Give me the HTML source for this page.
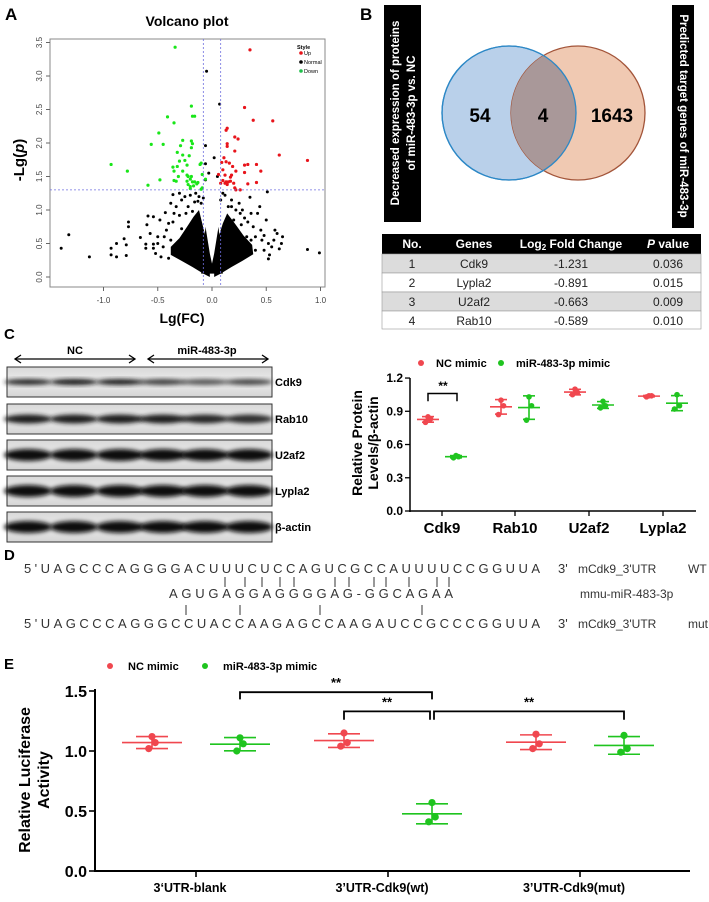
<!DOCTYPE html>
<html><head><meta charset="utf-8"><style>
html,body{margin:0;padding:0;background:#fff;}
svg{display:block;font-family:"Liberation Sans",Arial,sans-serif;}
</style></head><body>
<svg id="fig" width="709" height="902" viewBox="0 0 709 902" xmlns="http://www.w3.org/2000/svg">
<defs>
<filter id="blur" x="-20%" y="-50%" width="140%" height="200%"><feGaussianBlur stdDeviation="2"/></filter>
<linearGradient id="blotbg" x1="0" y1="0" x2="0" y2="1"><stop offset="0" stop-color="#d8d8d8"/><stop offset="0.5" stop-color="#ececec"/><stop offset="1" stop-color="#d4d4d4"/></linearGradient>
</defs>
<g id="panelA">
<text x="5" y="20" font-size="17" font-weight="bold">A</text>
<text x="187" y="26" font-size="14" font-weight="bold" text-anchor="middle">Volcano plot</text>
<rect x="50" y="39" width="275" height="248" fill="none" stroke="#888" stroke-width="1"/>
<g id="volcClip"></g>
<g id="volcAxes"></g>
<text transform="translate(24,160) rotate(-90)" font-size="15" font-weight="bold" text-anchor="middle">-Lg(<tspan font-style="italic">p</tspan>)</text>
<text x="182" y="323" font-size="14" font-weight="bold" text-anchor="middle">Lg(FC)</text>
<g>
<text x="297" y="49" font-size="5.5" font-weight="bold">Style</text>
<circle cx="301" cy="53" r="1.8" fill="#e8141b"/><text x="304" y="55" font-size="5.5">Up</text>
<circle cx="301" cy="62" r="1.8" fill="#000"/><text x="304" y="64" font-size="5.5">Normal</text>
<circle cx="301" cy="71" r="1.8" fill="#1fbf4a"/><text x="304" y="73" font-size="5.5">Down</text>
</g>
</g>

<g id="panelB">
<text x="360" y="20" font-size="17" font-weight="bold">B</text>
<rect x="384" y="5" width="37" height="217" fill="#000"/>
<text transform="translate(399,113) rotate(-90)" fill="#fff" font-size="11.5" font-weight="bold" text-anchor="middle"><tspan x="0" y="0">Decreased  expression of proteins</tspan><tspan x="0" y="16">of miR-483-3p vs. NC</tspan></text>
<rect x="672" y="5" width="22" height="223" fill="#000"/>
<text transform="translate(683,116) rotate(90)" fill="#fff" font-size="11.5" font-weight="bold" text-anchor="middle" dominant-baseline="middle">Predicted  target genes of miR-483-3p</text>
<circle cx="509" cy="113" r="67" fill="#b9d0ea" stroke="#2d88c6" stroke-width="1.3"/>
<circle cx="578" cy="113" r="67" fill="#edbfa5" fill-opacity="0.85" stroke="#a3553a" stroke-width="1.3"/>
<clipPath id="cb"><circle cx="509" cy="113" r="67"/></clipPath>
<circle cx="578" cy="113" r="67" fill="#a99899" clip-path="url(#cb)"/>
<circle cx="509" cy="113" r="67" fill="none" stroke="#2d88c6" stroke-width="1.3"/>
<text x="480" y="122" font-size="19" font-weight="bold" text-anchor="middle">54</text>
<text x="543" y="122" font-size="19" font-weight="bold" text-anchor="middle">4</text>
<text x="612" y="122" font-size="19" font-weight="bold" text-anchor="middle">1643</text>
<g>
<rect x="382" y="234" width="319" height="20" fill="#000"/>
<rect x="382" y="254" width="319" height="19" fill="#dcdcdc" stroke="#999" stroke-width="0.6"/>
<rect x="382" y="273" width="319" height="19" fill="#fff" stroke="#999" stroke-width="0.6"/>
<rect x="382" y="292" width="319" height="19" fill="#dcdcdc" stroke="#999" stroke-width="0.6"/>
<rect x="382" y="311" width="319" height="18" fill="#fff" stroke="#999" stroke-width="0.6"/>
<g font-size="12" fill="#fff" font-weight="bold" text-anchor="middle">
<text x="412" y="248">No.</text><text x="474" y="248">Genes</text><text x="571" y="248">Log<tspan font-size="8" dy="2">2</tspan><tspan dy="-2"> Fold Change</tspan></text><text x="668" y="248"><tspan font-style="italic">P</tspan> value</text>
</g>
<g font-size="12" fill="#222" text-anchor="middle">
<text x="412" y="268">1</text><text x="474" y="268">Cdk9</text><text x="571" y="268">-1.231</text><text x="668" y="268">0.036</text>
<text x="412" y="287">2</text><text x="474" y="287">Lypla2</text><text x="571" y="287">-0.891</text><text x="668" y="287">0.015</text>
<text x="412" y="306">3</text><text x="474" y="306">U2af2</text><text x="571" y="306">-0.663</text><text x="668" y="306">0.009</text>
<text x="412" y="325">4</text><text x="474" y="325">Rab10</text><text x="571" y="325">-0.589</text><text x="668" y="325">0.010</text>
</g>
</g>
</g>

<g id="panelC">
<text x="4" y="339" font-size="15" font-weight="bold">C</text>
<text x="75" y="354" font-size="11" font-weight="bold" text-anchor="middle">NC</text>
<text x="207" y="354" font-size="11" font-weight="bold" text-anchor="middle">miR-483-3p</text>
<g stroke="#000" stroke-width="1.3" fill="none">
<line x1="15" y1="359" x2="135" y2="359"/><path d="M21,355 L15,359 L21,363 M129,355 L135,359 L129,363"/>
<line x1="148" y1="359" x2="268" y2="359"/><path d="M154,355 L148,359 L154,363 M262,355 L268,359 L262,363"/>
</g>
<g id="blots"></g>
<g id="chartC"></g>
</g>

<g id="panelD">
<text x="4" y="560" font-size="15" font-weight="bold">D</text>
<g font-size="13" fill="#333">
<text x="24" y="573" textLength="516" lengthAdjust="spacing">5'UAGCCCAGGGGACUUUCUCCAGUCGCCAUUUUCCGGUUA</text>
<text x="558" y="573">3'</text>
<text x="578" y="573" font-size="12">mCdk9_3'UTR</text>
<text x="688" y="573" font-size="12">WT</text>
<text x="169" y="598" textLength="284" lengthAdjust="spacing">AGUGAGGAGGGGAG-GGCAGAA</text>
<text x="580" y="598" font-size="12">mmu-miR-483-3p</text>
<text x="24" y="628" textLength="516" lengthAdjust="spacing">5'UAGCCCAGGGCCUACCAAGAGCCAAGAUCCGCCCGGUUA</text>
<text x="558" y="628">3'</text>
<text x="578" y="628" font-size="12">mCdk9_3'UTR</text>
<text x="688" y="628" font-size="12">mut</text>
</g>
<g id="pipes" stroke="#333" stroke-width="1"></g>
</g>

<g id="panelE">
<text x="4" y="669" font-size="15" font-weight="bold">E</text>
<g id="chartE"></g>
</g>
</svg>
<script>
const NS='http://www.w3.org/2000/svg';
function mk(tag,attrs,parent){const e=document.createElementNS(NS,tag);for(const k in attrs)e.setAttribute(k,attrs[k]);parent.appendChild(e);return e;}

// ===== Panel A data =====
const upPoints=[[0.35,3.39],[0.30,2.53],[0.38,2.34],[0.56,2.33],[0.14,2.22],[0.13,2.19],[0.21,2.09],[0.24,2.06],[0.14,1.99],[0.14,1.95],[0.21,1.88],[0.62,1.82],[0.11,1.78],[0.88,1.74],[0.09,1.71],[0.13,1.72],[0.16,1.70],[0.30,1.67],[0.33,1.68],[0.41,1.68],[0.19,1.65],[0.10,1.60],[0.22,1.58],[0.45,1.58],[0.06,1.53],[0.12,1.52],[0.18,1.52],[0.17,1.49],[0.30,1.56],[0.10,1.44],[0.13,1.42],[0.15,1.42],[0.12,1.40],[0.17,1.43],[0.20,1.40],[0.41,1.41],[0.33,1.39],[0.21,1.33],[0.22,1.30],[0.26,1.30],[0.14,1.38],[0.08,1.40]];
const downPoints=[[-0.34,3.43],[-0.19,2.55],[-0.18,2.40],[-0.16,2.40],[-0.41,2.39],[-0.35,2.30],[-0.49,2.15],[-0.27,2.04],[-0.19,2.03],[-0.56,1.98],[-0.45,1.98],[-0.29,1.96],[-0.18,1.99],[-0.19,1.93],[-0.32,1.86],[-0.27,1.82],[-0.21,1.81],[-0.93,1.68],[-0.25,1.74],[-0.30,1.73],[-0.32,1.65],[-0.36,1.64],[-0.23,1.67],[-0.10,1.70],[-0.11,1.68],[-0.78,1.58],[-0.35,1.58],[-0.27,1.58],[-0.23,1.52],[-0.22,1.50],[-0.19,1.50],[-0.31,1.50],[-0.20,1.46],[-0.48,1.45],[-0.35,1.44],[-0.33,1.43],[-0.23,1.43],[-0.18,1.42],[-0.16,1.42],[-0.13,1.41],[-0.59,1.37],[-0.22,1.38],[-0.20,1.35],[-0.17,1.36],[-0.14,1.39],[-0.09,1.33],[-0.10,1.31],[-0.20,1.32],[-0.09,1.53],[-0.06,1.46]];
const normalPoints=[[-0.05,3.07],[0.07,2.58],[-0.06,1.96],[-0.06,1.69],[0.02,1.78],[-0.03,1.55],[-0.06,1.45],[0.05,1.50],[-1.39,0.43],[-1.32,0.63],[-1.13,0.30],[-0.93,0.33],[-0.93,0.43],[-0.88,0.30],[-0.88,0.50],[-0.79,0.32],[-0.79,0.48],[-0.81,0.57],[-0.77,0.82],[-0.77,0.75],[-0.66,0.59],[-0.61,0.49],[-0.61,0.43],[-0.60,0.78],[-0.59,0.91],[-0.54,0.90],[-0.54,0.49],[-0.54,0.43],[-0.48,0.85],[-0.43,0.96],[-0.36,1.23],[-0.30,1.25],[-0.38,1.10],[-0.40,0.80],[-0.50,0.60],[-0.45,0.45],[-0.52,0.35],[-0.47,0.30],[-0.40,0.28],[-0.33,1.05],[-0.28,1.15],[-0.25,1.20],[-0.20,1.22],[-0.15,1.25],[-0.12,1.20],[-0.10,1.10],[-0.35,0.95],[-0.42,0.70],[-0.57,0.65],[0.88,0.41],[0.99,0.36],[0.52,0.27],[0.51,1.27],[0.35,1.19],[0.44,1.05],[0.65,0.60],[0.64,0.50],[0.60,0.65],[0.58,0.70],[0.62,0.42],[0.55,0.45],[0.46,0.55],[0.50,0.85],[0.42,0.95],[0.30,0.88],[0.38,0.75],[0.25,1.10],[0.22,1.00],[0.18,1.15],[0.12,1.22],[0.10,1.25],[0.28,1.00],[0.32,0.60],[0.40,0.40],[0.48,0.40],[0.53,0.33],[0.45,0.70],[0.36,0.95],[0.27,0.78],[0.57,0.55],[0.15,1.05],[0.08,1.15],[-0.08,1.18],[-0.22,1.05],[-0.30,0.92],[-0.16,1.12],[0.20,0.85],[-0.38,0.55],[-0.33,0.40],[-0.28,0.72],[-0.24,0.95],[-0.18,0.98],[-0.44,0.60],[-0.50,0.50],[-0.36,0.82],[0.36,0.55],[0.30,0.45],[0.26,0.95],[0.40,0.60],[0.33,0.82],[0.48,0.62],[0.52,0.50],[0.18,1.05],[-0.13,1.13],[-0.26,0.40],[0.26,0.35]];
const cloudLeft=[[-0.02,0.0],[-0.08,0.05],[-0.18,0.15],[-0.28,0.24],[-0.38,0.33],[-0.38,0.45],[-0.3,0.58],[-0.23,0.75],[-0.17,0.9],[-0.12,1.0],[-0.09,0.8],[-0.06,0.6],[-0.02,0.3]];
const cloudRight=[[0.02,0.0],[0.08,0.05],[0.18,0.15],[0.28,0.24],[0.38,0.34],[0.37,0.48],[0.29,0.62],[0.21,0.8],[0.14,0.95],[0.1,0.8],[0.06,0.6],[0.02,0.3]];
const volcXTicks=[-1.0,-0.5,0.0,0.5,1.0];
const volcYTicks=[0.0,0.5,1.0,1.5,2.0,2.5,3.0,3.5];
const fcThreshold=0.08, pThreshold=1.3;

const xA=v=>212+v*108.5, yA=v=>277-v*67;
(function(){
 const g=document.getElementById('volcClip');
 [cloudLeft,cloudRight].forEach((poly,i)=>{
  const p=mk('polygon',{points:poly.map(d=>xA(d[0])+','+yA(d[1])).join(' '),fill:'#000'},g);
  
  
 });
 const dense=mk('path',{d:`M${xA(-0.1)},${yA(0.05)} L${xA(0.1)},${yA(0.05)} L${xA(0.06)},${yA(0.75)} L${xA(0.02)},${yA(0.35)} L${xA(0)},${yA(0.2)} L${xA(-0.02)},${yA(0.35)} L${xA(-0.06)},${yA(0.75)} Z`,fill:'#000'},g);
 
 
 normalPoints.forEach(d=>{const c=mk('circle',{cx:xA(d[0]),cy:yA(d[1]),r:1.5,fill:'#000'},g);
  
  });
 downPoints.forEach(d=>{const c=mk('circle',{cx:xA(d[0]),cy:yA(d[1]),r:1.6,fill:'#19e619'},g);
  
  });
 upPoints.forEach(d=>{const c=mk('circle',{cx:xA(d[0]),cy:yA(d[1]),r:1.6,fill:'#e8141b'},g);
  
  });
 const a=document.getElementById('volcAxes');
 [ -fcThreshold, fcThreshold].forEach(v=>{const l=mk('line',{x1:xA(v),x2:xA(v),y1:39,y2:287,stroke:'#6f6fe0','stroke-width':0.8,'stroke-dasharray':'2,2'},a);
  
  });
 const h=mk('line',{x1:50,x2:325,y1:yA(pThreshold),y2:yA(pThreshold),stroke:'#6f6fe0','stroke-width':0.8,'stroke-dasharray':'2,2'},a);
 
 
 volcXTicks.forEach(v=>{mk('line',{x1:xA(v),x2:xA(v),y1:287,y2:291,stroke:'#666'},a);
  const t=mk('text',{x:xA(v),y:303,'font-size':8,'text-anchor':'middle',fill:'#444'},a);t.textContent=v.toFixed(1);
  
  });
 volcYTicks.forEach(v=>{mk('line',{x1:46,x2:50,y1:yA(v),y2:yA(v),stroke:'#666'},a);
  const t=mk('text',{transform:`translate(42,${yA(v)}) rotate(-90)`,'font-size':8,'text-anchor':'middle',fill:'#444'},a);t.textContent=v.toFixed(1);
  
  });
})();

// ===== Western blots =====
const blotNames=['Cdk9','Rab10','U2af2','Lypla2','β-actin'];
const blotTops=[367,404,440,476,512];
const bandIntensity=[[0.75,0.85,0.8,0.6,0.45,0.55],[0.8,0.8,0.8,0.8,0.75,0.7],[0.95,0.95,0.95,0.9,0.9,0.95],[0.9,0.95,0.9,0.9,0.9,0.95],[0.95,0.95,0.9,0.95,0.95,0.95]];
const bandThick=[4,7,10,10,10];
(function(){
 const g=document.getElementById('blots');
 const lanes=[28,74,120,163,205,249];
 blotNames.forEach((n,i)=>{
  const y=blotTops[i];
  const r=mk('rect',{x:7,y:y,width:265,height:30,fill:'url(#blotbg)',stroke:'#333','stroke-width':1},g);
  
  
  lanes.forEach((lx,j)=>{
   const c=Math.round(255*(1-bandIntensity[i][j])*0.6);
   const e=mk('ellipse',{cx:lx,cy:y+15,rx:24,ry:bandThick[i]/2+1,fill:`rgb(${c},${c},${c})`,filter:'url(#blur)'},g);
   
   
  });
  const t=mk('text',{x:275,y:y+19,'font-size':11,'font-weight':'bold'},g);t.textContent=n;
  
  
 });
})();

// ===== Panel C chart data =====
const proteinCats=['Cdk9','Rab10','U2af2','Lypla2'];
const ncProtein=[[0.80,0.83,0.85],[0.87,0.95,1.00],[1.05,1.07,1.10],[1.03,1.04,1.04]];
const mirProtein=[[0.48,0.49,0.50],[0.82,0.95,1.03],[0.93,0.95,0.99],[0.92,0.95,1.05]];
const proteinYTicks=[0.0,0.3,0.6,0.9,1.2];

function stats(a){const m=a.reduce((s,v)=>s+v,0)/a.length;const sd=Math.sqrt(a.reduce((s,v)=>s+(v-m)*(v-m),0)/(a.length-1));return [m,sd];}
function drawGroup(g,x,vals,col,yF,half,cap,r,name){
 const [m,sd]=stats(vals);
 const gg=mk('g',{},g);
 
 
 mk('line',{x1:x,x2:x,y1:yF(m+sd),y2:yF(m-sd),stroke:col,'stroke-width':1.6},gg);
 mk('line',{x1:x-cap,x2:x+cap,y1:yF(m+sd),y2:yF(m+sd),stroke:col,'stroke-width':1.6},gg);
 mk('line',{x1:x-cap,x2:x+cap,y1:yF(m-sd),y2:yF(m-sd),stroke:col,'stroke-width':1.6},gg);
 mk('line',{x1:x-half,x2:x+half,y1:yF(m),y2:yF(m),stroke:col,'stroke-width':1.6},gg);
 const off=[-r*0.9,r*0.9,0];
 vals.forEach((v,i)=>{const c=mk('circle',{cx:x+off[i%3],cy:yF(v),r:r,fill:col},gg);
  
  });
}
(function(){
 const g=document.getElementById('chartC');
 const yC=v=>511-v*110.8;
 const cx=[442,515,589,663];
 mk('line',{x1:410,x2:410,y1:378,y2:512,stroke:'#000','stroke-width':1.5},g);
 mk('line',{x1:409,x2:696,y1:511,y2:511,stroke:'#000','stroke-width':1.5},g);
 proteinYTicks.forEach(v=>{mk('line',{x1:405,x2:410,y1:yC(v),y2:yC(v),stroke:'#000','stroke-width':1.3},g);
  const t=mk('text',{x:403,y:yC(v)+4,'font-size':12,'font-weight':'bold','text-anchor':'end'},g);t.textContent=v.toFixed(1);
  
  });
 proteinCats.forEach((c,i)=>{mk('line',{x1:cx[i],x2:cx[i],y1:511,y2:516,stroke:'#000','stroke-width':1.3},g);
  const t=mk('text',{x:cx[i],y:533,'font-size':15,'font-weight':'bold','text-anchor':'middle'},g);t.textContent=c;
  
  
  drawGroup(g,cx[i]-14,ncProtein[i],'#f0474f',yC,11,6,2.8,'nc-group-'+c.toLowerCase());
  drawGroup(g,cx[i]+14,mirProtein[i],'#1fc41f',yC,11,6,2.8,'mir-group-'+c.toLowerCase());
 });
 const b=mk('path',{d:`M428,${yC(0.99)} L428,${yC(1.06)} L457,${yC(1.06)} L457,${yC(0.99)}`,fill:'none',stroke:'#000','stroke-width':1.5},g);
 
 
 const s=mk('text',{x:443,y:yC(1.09),'font-size':12,'font-weight':'bold','text-anchor':'middle'},g);s.textContent='**';
 
 
 const yt=mk('text',{transform:'translate(362,443) rotate(-90)','font-size':14,'font-weight':'bold','text-anchor':'middle'},g);
 yt.innerHTML='<tspan x="0" y="0">Relative Protein</tspan><tspan x="0" y="16">Levels/β-actin</tspan>';
 
 
 const lg=mk('g',{},g);
 
 
 mk('circle',{cx:421,cy:363,r:3,fill:'#f0474f'},lg);
 let t=mk('text',{x:436,y:367,'font-size':11,'font-weight':'bold'},lg);t.textContent='NC mimic';
 mk('circle',{cx:501,cy:363,r:3,fill:'#1fc41f'},lg);
 t=mk('text',{x:516,y:367,'font-size':11,'font-weight':'bold'},lg);t.textContent='miR-483-3p mimic';
})();

// ===== Panel D pipes =====
const topPipes=[225,245,262,280,294,335,349,374,386,409,437,449];
const bottomPipes=[186,240,320,422];
(function(){
 const g=document.getElementById('pipes');
 topPipes.forEach(x=>{const l=mk('line',{x1:x,x2:x,y1:577,y2:587},g);
  
  });
 bottomPipes.forEach(x=>{const l=mk('line',{x1:x,x2:x,y1:605,y2:615},g);
  
  });
})();

// ===== Panel E data =====
const lucCats=["3‘UTR-blank","3’UTR-Cdk9(wt)","3’UTR-Cdk9(mut)"];
const ncLuc=[[1.02,1.07,1.12],[1.04,1.07,1.15],[1.02,1.06,1.14]];
const mirLuc=[[1.00,1.06,1.11],[0.41,0.45,0.57],[0.99,1.02,1.13]];
const lucYTicks=[0.0,0.5,1.0,1.5];
(function(){
 const g=document.getElementById('chartE');
 const yE=v=>871-v*120;
 const cx=[196,388,580];
 mk('line',{x1:95,x2:95,y1:689,y2:872,stroke:'#000','stroke-width':2},g);
 mk('line',{x1:94,x2:690,y1:871,y2:871,stroke:'#000','stroke-width':2},g);
 lucYTicks.forEach(v=>{mk('line',{x1:89,x2:95,y1:yE(v),y2:yE(v),stroke:'#000','stroke-width':1.6},g);
  const t=mk('text',{x:87,y:yE(v)+6,'font-size':16,'font-weight':'bold','text-anchor':'end'},g);t.textContent=v.toFixed(1);
  
  });
 lucCats.forEach((c,i)=>{mk('line',{x1:cx[i],x2:cx[i],y1:871,y2:877,stroke:'#000','stroke-width':1.6},g);
  const t=mk('text',{x:cx[i]-6,y:892,'font-size':12.5,'font-weight':'bold','text-anchor':'middle'},g);t.textContent=c;
  
  
  drawGroup(g,cx[i]-44,ncLuc[i],'#f0474f',yE,30,16,3.6,'nc-luc-group-'+i);
  drawGroup(g,cx[i]+44,mirLuc[i],'#1fc41f',yE,30,16,3.6,'mir-luc-group-'+i);
 });
 const br=[[cx[0]+44,cx[1]+44,1.49,1.43],[cx[1]-44,cx[1]+42,1.33,1.26],[cx[1]+46,cx[2]+44,1.33,1.26]];
 br.forEach(b=>{
  const p=mk('path',{d:`M${b[0]},${yE(b[3])} L${b[0]},${yE(b[2])} L${b[1]},${yE(b[2])} L${b[1]},${yE(b[3])}`,fill:'none',stroke:'#000','stroke-width':1.8},g);
  
  
  const s=mk('text',{x:(b[0]+b[1])/2,y:yE(b[2])-5,'font-size':13,'font-weight':'bold','text-anchor':'middle'},g);s.textContent='**';
  
  
 });
 const yt=mk('text',{transform:'translate(30,780) rotate(-90)','font-size':16,'font-weight':'bold','text-anchor':'middle'},g);
 yt.innerHTML='<tspan x="0" y="0">Relative Luciferase</tspan><tspan x="0" y="19">Activity</tspan>';
 
 
 const lg=mk('g',{},g);
 
 
 mk('circle',{cx:110,cy:666,r:3,fill:'#f0474f'},lg);
 let t=mk('text',{x:128,y:670,'font-size':11,'font-weight':'bold'},lg);t.textContent='NC mimic';
 mk('circle',{cx:205,cy:666,r:3,fill:'#1fc41f'},lg);
 t=mk('text',{x:223,y:670,'font-size':11,'font-weight':'bold'},lg);t.textContent='miR-483-3p mimic';
})();
</script>
</body></html>
